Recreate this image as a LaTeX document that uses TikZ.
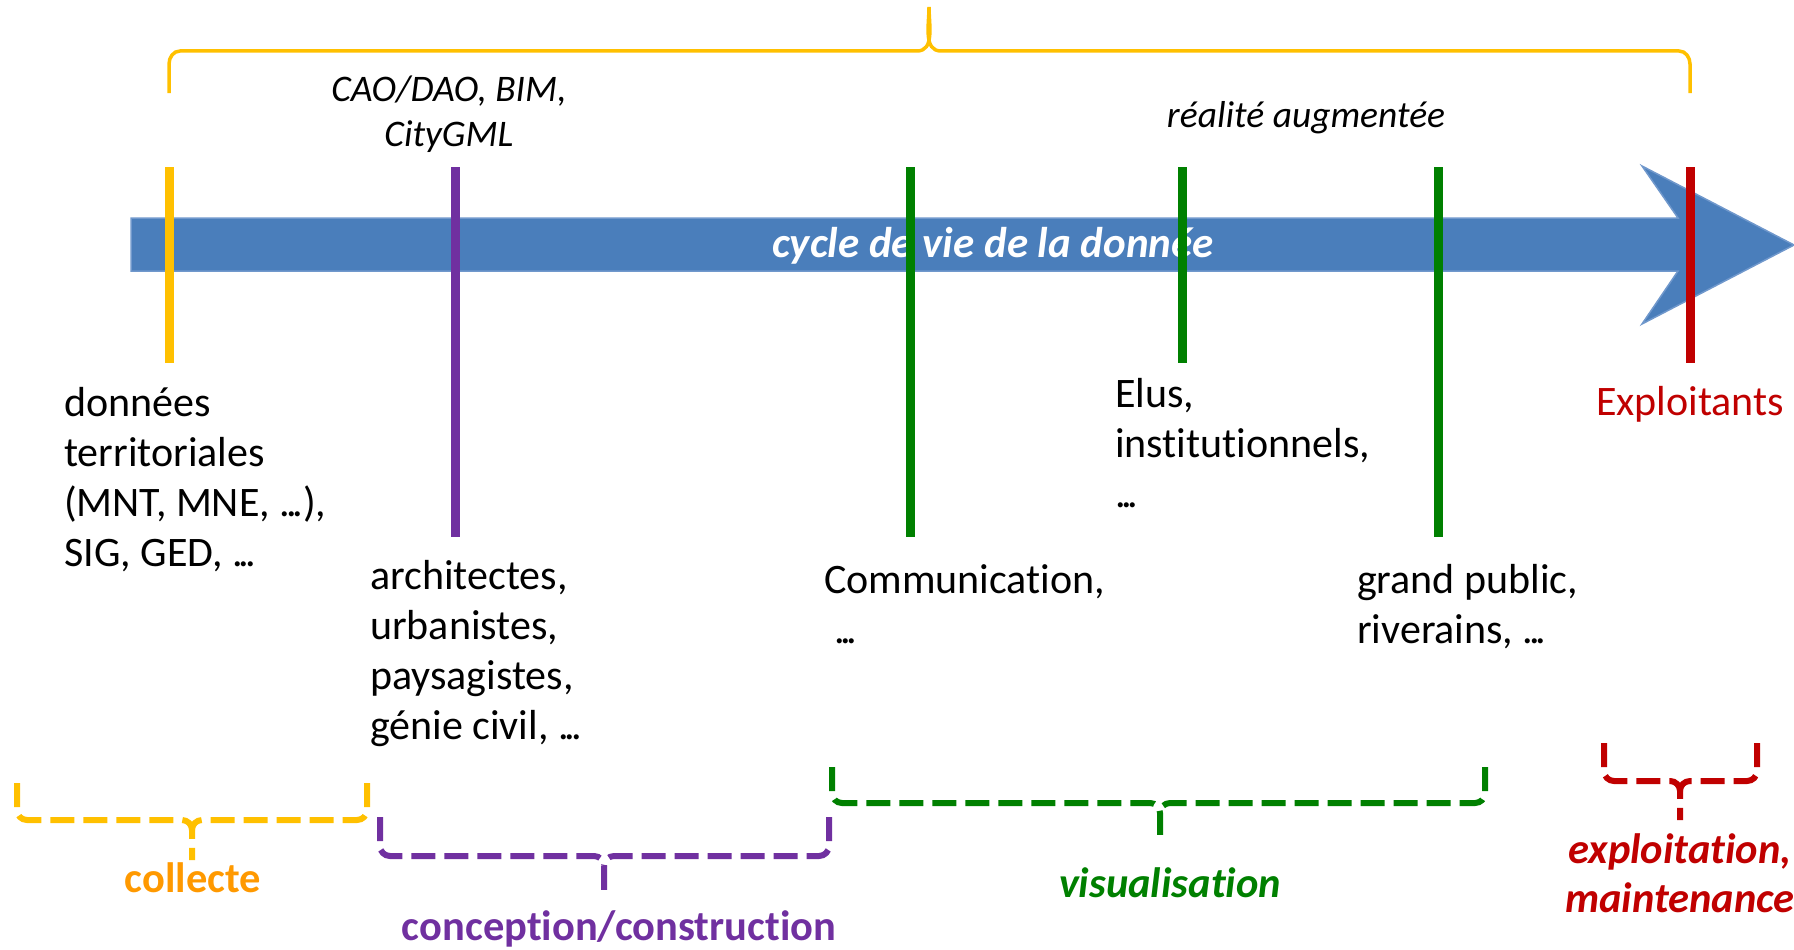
\documentclass[tikz,border=0pt]{standalone}
\usepackage{fontspec}
\setmainfont{Carlito}
\definecolor{ylw}{HTML}{FFC000}
\definecolor{prp}{HTML}{7030A0}
\definecolor{grn}{HTML}{008000}
\definecolor{rdd}{HTML}{C00000}
\definecolor{blu}{HTML}{4A7EBB}
\definecolor{bluedge}{HTML}{7098CC}
\definecolor{org}{HTML}{FF9900}
\newcommand\leftlines[1]{\begin{tabular}[t]{@{}l@{}}#1\end{tabular}}
\newcommand\centerlines[1]{\begin{tabular}[t]{@{}c@{}}#1\end{tabular}}
% compact ellipsis
\newcommand\ellip{.\kern-0.1em.\kern-0.1em.}
% "t" and "i" kept as separate letters
\newcommand\tsep{t\kern0pt i}
% dashed brace opening upwards: colour, left x, right x, tip x, leg top y, bar y, tip y
\newcommand\dashbrace[7]{%
  \draw[bracebar,#1] (#2,#5) -- (#2,#6-10) to[out=-90,in=180] (#2+10,#6)
      -- (#4-10,#6) to[out=0,in=90] (#4,#6+10) -- (#4,#7);
  \draw[bracebar,#1] (#3,#5) -- (#3,#6-10) to[out=-90,in=0] (#3-10,#6)
      -- (#4+10,#6) to[out=180,in=90] (#4,#6+10);
}
\begin{document}
\begin{tikzpicture}[x=1pt,y=-1pt,
  marker/.style={line width=9pt},
  bracebar/.style={line width=6pt,dash pattern=on 24pt off 9pt},
  body/.style={inner sep=0pt,anchor=base west,font=\fontsize{42}{50}\selectfont},
  tool/.style={inner sep=0pt,anchor=base,font=\fontsize{37.5}{45}\selectfont\itshape},
  phase/.style={inner sep=0pt,anchor=base,font=\fontsize{42.5}{49}\selectfont\bfseries},
  phaseit/.style={phase,font=\fontsize{42.5}{49}\selectfont\bfseries\itshape}]
\useasboundingbox (0,0) rectangle (1794,950);

% life-cycle arrow
\fill[blu,draw=bluedge,line width=1.5pt]
  (131,218) -- (1678,218) -- (1642,166) -- (1794,245) -- (1642,324)
  -- (1678,271) -- (131,271) -- cycle;
\node[inner sep=0pt,anchor=base,text=white,
      font=\fontsize{43}{50}\selectfont\bfseries\itshape] (cycle) at (993,257)
  {cycle de vie de la donnée};

% overall brace on top
\coordinate (bl) at (169,93);
\coordinate (br) at (1690,93);
\coordinate (btip) at (929,7);
\draw[ylw,line width=3.5pt]
  (bl) -- (169,64) to[out=90,in=180] (180,51) -- (917,51)
  to[out=0,in=-90] (btip) to[out=-90,in=180] (941,51) -- (1679,51)
  to[out=0,in=90] (1690,64) -- (br);

% tools and audiences
\node[tool] (cao) at (449,101) {\centerlines{CAO/DAO, BIM,\\CityGML}};
\node[tool] (ra) at (1306,127) {réalité augmentée};

\node[body] (donnees) at (64,416)
  {\leftlines{données\\territoriales\\(MNT, MNE, \ellip),\\SIG, GED, \ellip}};
\node[body] (archi) at (370,589)
  {\leftlines{architectes,\\urbanistes,\\paysagistes,\\génie civil, \ellip}};
\node[body] (comm) at (824,593)
  {\leftlines{Communica\tsep on,\\\hspace*{10pt}\ellip}};
\node[body] (elus) at (1115,407)
  {\leftlines{Elus,\\ins\tsep tu\tsep onnels,\\\ellip}};
\node[body] (public) at (1357,593)
  {\leftlines{grand public,\\riverains, \ellip}};
\node[body,anchor=base,text=rdd] (exploit) at (1690,415) {Exploitants};

% milestones across the arrow
\coordinate (m1t) at (169,167);  \coordinate (m1b) at (169,363);
\coordinate (m2t) at (455,167);  \coordinate (m2b) at (455,537);
\coordinate (m3t) at (910,167);  \coordinate (m3b) at (910,537);
\coordinate (m4t) at (1182,167); \coordinate (m4b) at (1182,363);
\coordinate (m5t) at (1438,167); \coordinate (m5b) at (1438,537);
\coordinate (m6t) at (1690,167); \coordinate (m6b) at (1690,363);
\draw[marker,ylw] (m1t) -- (m1b);
\draw[marker,prp] (m2t) -- (m2b);
\draw[marker,grn] (m3t) -- (m3b);
\draw[marker,grn] (m4t) -- (m4b);
\draw[marker,grn] (m5t) -- (m5b);
\draw[marker,rdd] (m6t) -- (m6b);

% phases
\dashbrace{ylw}{17}{367}{192}{783}{820}{860}
\dashbrace{prp}{380}{829}{604}{817}{856}{890}
\dashbrace{grn}{832}{1485}{1160}{767}{803}{843}
\dashbrace{rdd}{1604}{1757}{1680}{743}{781}{820}

\node[phase,text=org] (collecte) at (193,892) {collecte};
\node[phase,text=prp] (concept) at (619,940) {concep\tsep on/construc\tsep on};
\node[phaseit,text=grn] (visu) at (1170,897) {visualisa\tsep on};
\node[phaseit,text=rdd] (maint) at (1680,863)
  {\centerlines{exploita\tsep on,\\maintenance}};
\end{tikzpicture}
\end{document}
